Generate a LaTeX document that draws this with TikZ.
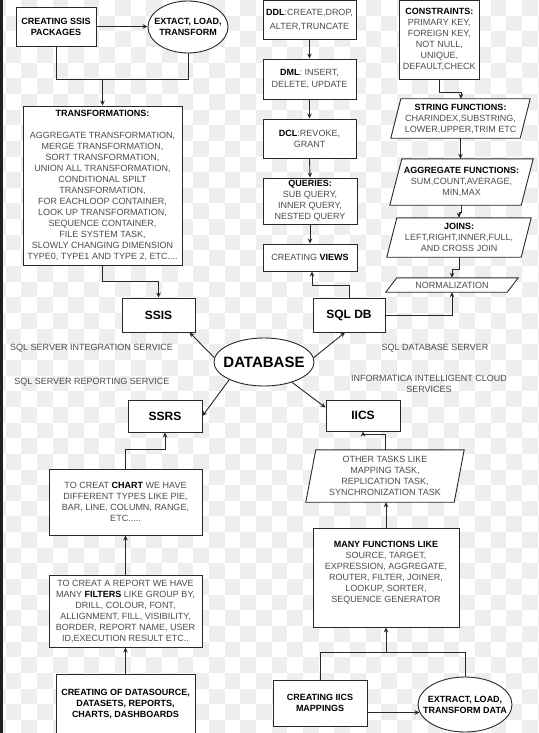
\documentclass[tikz,border=0pt]{standalone}
\usepackage{fontspec}
\setmainfont{Liberation Sans}
\usetikzlibrary{arrows.meta,calc,shapes.geometric}
\pgfdeclarelayer{bg}
\pgfdeclarelayer{back}
\pgfsetlayers{bg,back,main}
\newcommand\fs{\fontsize{9}{11}\selectfont}
\newcommand\bt[1]{{\bfseries\color{black}#1}}
\definecolor{chk}{RGB}{238,238,238}
\definecolor{ln}{RGB}{40,40,40}
\tikzset{
  line/.style={draw=ln, line width=0.9pt},
  arr/.style={line, -{Stealth[length=5pt,width=4.5pt]}},
  box/.style={rectangle, draw=ln, line width=0.9pt, fill=white, inner sep=0pt, align=center, text=black!70, font=\fs},
  bbox/.style={box, font=\fs\bfseries, text=black},
  big/.style={box, font=\fontsize{12}{14}\selectfont\bfseries, text=black},
  ell/.style={ellipse, draw=ln, line width=0.9pt, fill=white, inner sep=0pt},
  lbl/.style={align=center, font=\fs\bfseries, text=black, inner sep=0pt},
  ptext/.style={inner sep=0pt, align=center, text=black!70, font=\fs},
}
\newcommand\para[2]{\begin{pgfonlayer}{back}\draw[line, fill=white] ($(#1.north west)+(#2,0)$) -- (#1.north east) -- ($(#1.south east)+(-#2,0)$) -- (#1.south west) -- cycle;\end{pgfonlayer}}
\begin{document}
\begin{tikzpicture}[x=1pt,y=-1pt]
\useasboundingbox (0,0) rectangle (538,733);
\begin{pgfonlayer}{bg}
\fill[white] (0,0) rectangle (538,733);
\foreach \i in {0,...,35}{\foreach \j in {0,...,46}{%
  \pgfmathtruncatemacro\p{mod(\i+\j,2)}%
  \ifnum\p=0 \fill[chk] (-10.1+15.65*\i,15.65*\j) rectangle ++(15.65,15.65);\fi}}
\fill[black!88] (0,0) rectangle (3,733);
\end{pgfonlayer}

% ---------- SSIS branch ----------
\node[bbox, minimum width=80pt, minimum height=39pt] (ssispkg) at (56,26.5) {CREATING SSIS\\PACKAGES};
\node[ell, minimum width=80pt, minimum height=52pt, label={[lbl]center:EXTACT, LOAD,\\TRANSFORM}] (etl1) at (188,27) {};
\node[box, minimum width=159pt, minimum height=159pt] (trans) at (102.5,185.5) {\bt{TRANSFORMATIONS:}\\[11pt]AGGREGATE TRANSFORMATION,\\MERGE TRANSFORMATION,\\SORT TRANSFORMATION,\\UNION ALL TRANSFORMATION,\\CONDITIONAL SPILT\\TRANSFORMATION,\\FOR EACHLOOP CONTAINER,\\LOOK UP TRANSFORMATION,\\SEQUENCE CONTAINER,\\FILE SYSTEM TASK,\\SLOWLY CHANGING DIMENSION\\TYPE0, TYPE1 AND TYPE 2, ETC....};

% ---------- centre ----------
\node[big, minimum width=73pt, minimum height=34pt] (ssis) at (158.5,315) {SSIS};
\node[big, minimum width=72pt, minimum height=34pt] (sqldb) at (349,315) {SQL DB};
\node[ell, minimum width=100pt, minimum height=48pt, label={[lbl, font=\fontsize{15}{17}\selectfont\bfseries]center:DATABASE}] (db) at (264,362) {};
\node[big, minimum width=74pt, minimum height=32pt] (ssrs) at (165,416) {SSRS};
\node[big, minimum width=74pt, minimum height=31pt] (iics) at (363,415.5) {IICS};

\node[ptext] (lssis) at (91.5,348.6) {SQL SERVER INTEGRATION SERVICE};
\node[ptext] (lssrs) at (91.8,382) {SQL SERVER REPORTING SERVICE};
\node[ptext] (lsql) at (435,348.6) {SQL DATABASE SERVER};
\node[ptext] (liics) at (429,383.5) {INFORMATICA INTELLIGENT CLOUD\\SERVICES};

% ---------- SQL column ----------
\node[box, minimum width=93pt, minimum height=38.5pt] (ddl) at (309.5,19.75) {\bt{DDL}:CREATE,DROP,\\[3pt]ALTER,TRUNCATE};
\node[box, minimum width=93pt, minimum height=40pt] (dml) at (309.5,79) {\bt{DML}: INSERT,\\[1pt]DELETE, UPDATE};
\node[box, minimum width=93pt, minimum height=39pt] (dcl) at (309.5,138.5) {\bt{DCL}:REVOKE,\\GRANT};
\node[box, minimum width=94pt, minimum height=46pt] (queries) at (310,201) {\bt{QUERIES:}\\SUB QUERY,\\INNER QUERY,\\NESTED QUERY};
\node[box, minimum width=94pt, minimum height=27pt] (views) at (310,257.5) {CREATING \bt{VIEWS}};

\node[box, minimum width=80pt, minimum height=79pt] (cons) at (439.3,39.75) {\bt{CONSTRAINTS:}\\PRIMARY KEY,\\FOREIGN KEY,\\NOT NULL,\\UNIQUE,\\DEFAULT,CHECK};
\node[ptext, minimum width=139pt, minimum height=39pt] (string) at (460.5,118.5) {\bt{STRING FUNCTIONS:}\\CHARINDEX,SUBSTRING,\\LOWER,UPPER,TRIM ETC};
\para{string}{10}
\node[ptext, minimum width=143pt, minimum height=46pt] (agg) at (461.5,182) {\bt{AGGREGATE FUNCTIONS:}\\SUM,COUNT,AVERAGE,\\MIN,MAX};
\para{agg}{12}
\node[ptext, minimum width=144pt, minimum height=39pt] (joins) at (459,237.5) {\bt{JOINS:}\\LEFT,RIGHT,INNER,FULL,\\AND CROSS JOIN};
\para{joins}{10}
\node[ptext, minimum width=132pt, minimum height=14pt] (norm) at (452,285) {NORMALIZATION};
\para{norm}{11}

% ---------- SSRS column ----------
\node[box, minimum width=153pt, minimum height=66pt] (chart) at (125.5,502) {TO CREAT \bt{CHART} WE HAVE\\DIFFERENT TYPES LIKE PIE,\\BAR, LINE, COLUMN, RANGE,\\ETC.....};
\node[box, minimum width=153pt, minimum height=72pt] (filters) at (125.5,611) {TO CREAT A REPORT WE HAVE\\MANY \bt{FILTERS} LIKE GROUP BY,\\DRILL, COLOUR, FONT,\\ALLIGNMENT, FILL, VISIBILITY,\\BORDER, REPORT NAME, USER\\ID,EXECUTION RESULT ETC..};
\node[bbox, minimum width=139pt, minimum height=61pt] (dsrc) at (125.5,704.5) {CREATING OF DATASOURCE,\\DATASETS, REPORTS,\\CHARTS, DASHBOARDS};

% ---------- IICS column ----------
\node[ptext, minimum width=158pt, minimum height=52pt] (other) at (385,476) {OTHER TASKS LIKE\\MAPPING TASK,\\REPLICATION TASK,\\SYNCHRONIZATION TASK};
\para{other}{10}
\node[box, minimum width=146pt, minimum height=99pt, label={[ptext, yshift=4.5pt]center:\bt{MANY FUNCTIONS LIKE}\\SOURCE, TARGET,\\EXPRESSION, AGGREGATE,\\ROUTER, FILTER, JOINER,\\LOOKUP, SORTER,\\SEQUENCE GENERATOR}] (func) at (386,577.5) {};
\node[bbox, minimum width=94pt, minimum height=46pt] (map) at (320,703) {CREATING IICS\\MAPPINGS};
\node[ell, minimum width=94pt, minimum height=55pt, label={[lbl]center:EXTRACT, LOAD,\\TRANSFORM DATA}] (etl2) at (465,704.5) {};

% ---------- connectors ----------
\coordinate (j1) at (102.5,79);
\draw[line] (ssispkg.south) |- (j1);
\draw[line] (etl1.south) |- (j1);
\draw[arr] (j1) -- (trans.north);
\draw[arr] (ssispkg.east) -- (ssispkg.east -| etl1.west);
\draw[arr] (trans.south) -- ++(0,16) -| (ssis.north);

\draw[arr] (db.175) -- ($(ssis.south east)+(-6,0)$);
\draw[arr] (db.5) -- ($(sqldb.south)+(-4,0)$);
\draw[arr] (db.207) -- (ssrs.east);
\draw[arr] (db.324) -- ($(iics.west)+(0,-8)$);

\draw[arr] (ddl.south) -- (dml.north);
\draw[arr] (dml.south) -- (dcl.north);
\draw[arr] (dcl.south) -- (queries.north);
\draw[arr] (queries.south) -- (views.north);
\draw[arr] (sqldb.north) -- ++(0,-12) -| ($(views.south)+(2,0)$);
\draw[arr] (sqldb.east) -| (norm.south);

\draw[arr] (cons.south) -- ++(0,13) -| ($(string.north)+(0.5,0)$);
\draw[arr] (string.south) -- (string.south |- agg.north);
\draw[arr] (agg.south) -- ++(0,7) -| (joins.north);
\draw[arr] (joins.south) -- ++(0,12) -| (norm.north);

\draw[arr] (chart.north) -- ++(0,-19) -| (ssrs.south);
\draw[arr] (filters.north) -- (chart.south);
\draw[arr] (dsrc.north) -- (filters.south);

\draw[arr] (other.north) -- ++(0,-15) -| (iics.south);
\draw[arr] (func.north) -- (func.north |- other.south);
\coordinate (j2) at (386,652.7);
\draw[line] (map.north) |- (j2);
\draw[line] (etl2.north) |- (j2);
\draw[arr] (j2) -- (func.south);
\draw[arr] (map.east |- etl2.190) -- (etl2.190);
\end{tikzpicture}
\end{document}
